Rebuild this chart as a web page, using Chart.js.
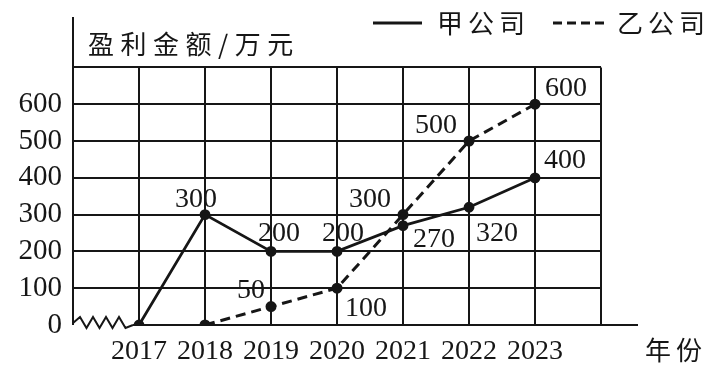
<!DOCTYPE html>
<html lang="zh-CN">
  <head>
    <meta charset="UTF-8" />
    <title>盈利金额</title>
    <style>
      html, body { margin: 0; padding: 0; background: #fff; }
      .wrap { position: relative; width: 723px; height: 369px; }
    </style>
  </head>
  <body>
    <div class="wrap">
      <canvas id="grafico"></canvas>
    </div>
    <script src="https://cdn.jsdelivr.net/npm/chart.js"></script>
    <script>
      // dados
      const years = ["2017", "2018", "2019", "2020", "2021", "2022", "2023"];
      const jiaValues = [0, 300, 200, 200, 270, 320, 400];
      const yiValues = [null, 0, 50, 100, 300, 500, 600];
      const yTicks = [0, 100, 200, 300, 400, 500, 600];
      const gridTop = 700;

      const serif = "'Liberation Serif', 'DejaVu Serif', serif";
      const cjk = "'Noto Sans CJK SC', 'Noto Sans', sans-serif";
      const ink = "#161616";

      // deslocamento dos rótulos (px) em relação ao ponto
      const jiaOffsets = [null, [-9, -15], [8, -18], [6, -18], [31, 14], [28, 26], [30, -17]];
      const yiOffsets = [null, null, [-20, -16], [29, 20], [-33, -15], [-33, -15], [31, -16]];

      const decoracao = {
        id: "decoracao",
        beforeDatasetsDraw(chart) {
          const { ctx, scales } = chart;
          const x = scales.x, y = scales.y;
          ctx.save();
          ctx.strokeStyle = ink;
          ctx.lineWidth = 2;
          // linhas horizontais
          for (let v = 100; v <= gridTop; v += 100) {
            const py = Math.round(y.getPixelForValue(v));
            ctx.beginPath();
            ctx.moveTo(x.getPixelForValue(-1), py);
            ctx.lineTo(x.getPixelForValue(7), py);
            ctx.stroke();
          }
          // linhas verticais
          for (let i = 0; i <= 7; i++) {
            const px = Math.round(x.getPixelForValue(i));
            ctx.beginPath();
            ctx.moveTo(px, y.getPixelForValue(0));
            ctx.lineTo(px, y.getPixelForValue(gridTop));
            ctx.stroke();
          }
          // eixo y
          const x0 = Math.round(x.getPixelForValue(-1));
          ctx.beginPath();
          ctx.moveTo(x0, y.getPixelForValue(0));
          ctx.lineTo(x0, chart.chartArea.top);
          ctx.stroke();
          // eixo x
          const y0 = Math.round(y.getPixelForValue(0));
          const xs = x.getPixelForValue(0);
          ctx.beginPath();
          ctx.moveTo(xs - 6, y0);
          ctx.lineTo(chart.chartArea.right, y0);
          ctx.stroke();
          // quebra do eixo (zigue-zague)
          ctx.beginPath();
          ctx.moveTo(x0, y0 - 2);
          let px = x0 + 7;
          let up = true;
          for (let k = 0; k < 8; k++) {
            ctx.lineTo(px, up ? y0 - 8 : y0 + 3);
            px += 6.5;
            up = !up;
          }
          ctx.lineTo(xs - 6, y0);
          ctx.stroke();
          ctx.restore();
        },
        afterDatasetsDraw(chart) {
          const { ctx } = chart;
          ctx.save();
          ctx.fillStyle = ink;
          ctx.strokeStyle = ink;
          // rótulos de valores
          ctx.font = "28px " + serif;
          ctx.textAlign = "center";
          ctx.textBaseline = "middle";
          const rotular = (idx, values, offsets) => {
            const meta = chart.getDatasetMeta(idx);
            meta.data.forEach((pt, i) => {
              if (!offsets[i] || !values[i]) return;
              ctx.fillText(String(values[i]), pt.x + offsets[i][0], pt.y + offsets[i][1]);
            });
          };
          rotular(0, jiaValues, jiaOffsets);
          rotular(1, yiValues, yiOffsets);

          // título do eixo y
          ctx.font = "26px " + cjk;
          ctx.textAlign = "left";
          ctx.letterSpacing = "6.5px";
          ctx.fillText("盈利金额/万元", 88, 44);
          // título do eixo x
          ctx.letterSpacing = "5px";
          ctx.fillText("年份", 645, 350);

          // legenda
          ctx.lineWidth = 3;
          ctx.beginPath();
          ctx.moveTo(373, 23);
          ctx.lineTo(422, 23);
          ctx.stroke();
          ctx.fillText("甲公司", 437, 23);
          ctx.setLineDash([9, 5]);
          ctx.beginPath();
          ctx.moveTo(553, 23);
          ctx.lineTo(605, 23);
          ctx.stroke();
          ctx.setLineDash([]);
          ctx.fillText("乙公司", 617, 23);
          ctx.restore();
        },
      };

      new Chart(document.getElementById("grafico"), {
        type: "line",
        data: {
          datasets: [
            {
              label: "甲公司",
              data: years.map((ano, i) => ({ x: i, y: jiaValues[i] })),
              borderColor: ink,
              backgroundColor: ink,
              borderWidth: 2.8,
              pointRadius: 4,
              tension: 0,
              fill: false,
            },
            {
              label: "乙公司",
              data: years.map((ano, i) => ({ x: i, y: yiValues[i] })),
              borderColor: ink,
              backgroundColor: ink,
              borderWidth: 3,
              borderDash: [10, 6],
              pointRadius: 4,
              tension: 0,
              fill: false,
            },
          ],
        },
        options: {
          responsive: true,
          maintainAspectRatio: false,
          animation: false,
          events: [],
          layout: { padding: { top: 17, right: 85, left: 0, bottom: 0 } },
          plugins: { legend: { display: false }, tooltip: { enabled: false } },
          scales: {
            x: {
              type: "linear",
              min: -1,
              max: 7.56,
              grid: { display: false },
              border: { display: false },
              afterFit: (s) => { s.height = 44; s.paddingLeft = 0; s.paddingRight = 0; },
              ticks: {
                stepSize: 1,
                autoSkip: false,
                maxRotation: 0,
                padding: 2,
                color: ink,
                font: { family: serif, size: 28 },
                callback: (v) => (Number.isInteger(v) && v >= 0 && v < years.length ? years[v] : ""),
              },
            },
            y: {
              min: 0,
              max: 837,
              grid: { display: false },
              border: { display: false },
              afterFit: (s) => { s.width = 73; s.paddingTop = 0; s.paddingBottom = 0; },
              ticks: {
                stepSize: 100,
                padding: 3,
                color: ink,
                font: { family: serif, size: 29 },
                callback: (v) => (yTicks.includes(v) ? String(v) : ""),
              },
            },
          },
        },
        plugins: [decoracao],
      });
    </script>
  </body>
</html>
